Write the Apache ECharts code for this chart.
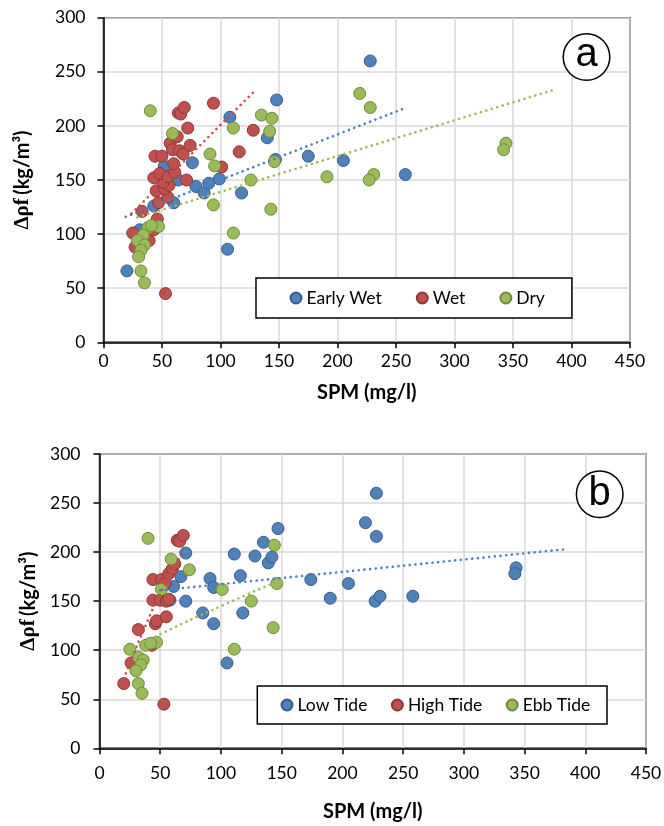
<!DOCTYPE html>
<html><head><meta charset="utf-8">
<script src="https://cdn.jsdelivr.net/npm/echarts@6/dist/echarts.min.js"></script>
<style>html,body{margin:0;padding:0;background:#fff}#c{width:664px;height:826px}</style>
</head><body><div id="c"></div>
<script>
// ---- data ----
const xRange = [0, 450, 50];
const yRange = [0, 300, 50];

// Panel (a)
const earlyWet = [[20,66],[31,104],[43,126],[52,163],[55,148],[60,129],[64,150],[76,166],[79,144],[86,138],[90,147],[99,151],[106,86],[108,208],[118,138],[140,189],[147,169],[148,224],[175,172],[205,168],[228,260],[258,155]];
const wet = [[25,101],[27,88],[33,121],[39,94],[43,104],[46,114],[47,129],[55,134],[45,140],[52,142],[56,145],[51,148],[43,152],[48,156],[55,153],[61,157],[71,150],[60,165],[44,172],[50,172],[57,184],[63,190],[59,178],[65,177],[68,174],[74,182],[72,198],[64,212],[66,211],[69,217],[94,221],[101,162],[116,176],[128,196],[53,45]];
const dry = [[40,214],[59,193],[91,174],[95,163],[94,127],[111,198],[111,101],[126,150],[135,210],[144,207],[142,195],[146,167],[143,123],[191,153],[219,230],[228,217],[231,155],[227,150],[344,184],[342,178],[38,106],[47,107],[41,108],[34,99],[29,94],[35,90],[32,85],[30,79],[32,66],[35,55]];
const trendEarlyWet = [[19,116],[259,217]];
const trendWet = [[24,119],[128,231]];
const trendDry = [[29,115.5],[384,233]];

// Panel (b)
const lowTide = [[58,151],[61,165],[67,175],[71,199],[71,150],[85,138],[91,173],[94,164],[94,127],[105,87],[111,198],[116,176],[118,138],[128,196],[135,210],[139,189],[142,195],[147,224],[174,172],[190,153],[205,168],[219,230],[228,260],[228,216],[227,150],[231,155],[258,155],[343,184],[342,178]];
const highTide = [[20,66],[26,87],[32,121],[43,105],[46,127],[47,130],[55,134],[44,151],[50,151],[55,150],[57,152],[44,172],[51,172],[54,168],[57,178],[60,183],[62,188],[64,212],[66,211],[69,217],[53,45]];
const ebbTide = [[40,214],[59,193],[74,182],[51,162],[101,162],[125,150],[143,123],[111,101],[144,207],[146,168],[25,101],[38,105],[47,108],[42,107],[32,93],[36,90],[34,85],[30,79],[32,66],[35,56]];
const trendLow = [[50,161],[384,203]];
const trendHigh = [[20,71],[32,108],[47,150],[68,199]];
const trendEbb = [[25,101],[75,131],[146,170]];

// ---- styling ----
const BLUE = '#4F81BD', BLUE_B = '#385D8A';
const RED = '#C0504D', RED_B = '#8C3836';
const GREEN = '#9BBB59', GREEN_B = '#71893F';
const FONT = 'Lato';

function xAxisDef(gi, margin, gap) {
  return {
    type: 'value', gridIndex: gi, min: xRange[0], max: xRange[1], interval: xRange[2],
    axisLine: {show: true, onZero: false, lineStyle: {color: '#000', width: 1.5}},
    axisTick: {show: true, inside: false, length: 6, lineStyle: {color: '#000', width: 1.5}},
    splitLine: {show: true, lineStyle: {color: '#d9d9d9', width: 1.5}},
    axisLabel: {fontFamily: FONT, fontSize: 17.5, color: '#000', margin: margin, showMinLabel: true, showMaxLabel: true},
    name: 'SPM (mg/l)', nameLocation: 'middle', nameGap: gap,
    nameTextStyle: {fontFamily: FONT, fontWeight: 'bold', fontSize: 20, color: '#000'}
  };
}
function yAxisDef(gi, margin, gap) {
  return {
    type: 'value', gridIndex: gi, min: yRange[0], max: yRange[1], interval: yRange[2],
    axisLine: {show: true, onZero: false, lineStyle: {color: '#000', width: 1.5}},
    axisTick: {show: true, inside: false, length: 6, lineStyle: {color: '#000', width: 1.5}},
    splitLine: {show: true, lineStyle: {color: '#d9d9d9', width: 1.5}},
    axisLabel: {fontFamily: FONT, fontSize: 17.5, color: '#000', margin: margin, showMinLabel: true, showMaxLabel: true},
    name: '{s|Δρf} {n|(kg/m³)}', nameLocation: 'middle', nameGap: gap,
    nameTextStyle: {color: '#000', rich: {
      s: {fontFamily: 'Liberation Serif', fontWeight: 'bold', fontSize: 21, color: '#000'},
      n: {fontFamily: FONT, fontWeight: 'bold', fontSize: 20, color: '#000'}
    }}
  };
}
function scatter(name, data, fill, stroke, gi) {
  return {type: 'scatter', name: name, data: data, xAxisIndex: gi, yAxisIndex: gi,
    symbol: 'circle', symbolSize: 12, z: 2, silent: true,
    itemStyle: {color: fill, borderColor: stroke, borderWidth: 1, opacity: 1}};
}
function trend(data, color, gi) {
  return {type: 'line', data: data, xAxisIndex: gi, yAxisIndex: gi, symbol: 'none', showSymbol: false,
    z: 3, silent: true, smooth: data.length > 2 ? 0.3 : false,
    lineStyle: {color: color, width: 2.6, type: [0.1, 5.6], cap: 'round'}};
}
function legendDef(names, left, top, gap, pad) {
  return {data: names, left: left, top: top, orient: 'horizontal', icon: 'circle',
    itemWidth: 11, itemHeight: 11, itemGap: gap, padding: pad,
    borderColor: '#000', borderWidth: 1.5, backgroundColor: '#fff', selectedMode: false,
    textStyle: {fontFamily: FONT, fontSize: 17.5, color: '#000', lineHeight: 20}};
}

const chart = echarts.init(document.getElementById('c'), null, {renderer: 'canvas'});
chart.setOption({
  animation: false,
  backgroundColor: '#fff',
  grid: [
    {left: 103.5, top: 17.7, width: 526.5, height: 324.6, show: true, borderColor: '#000', borderWidth: 1.5, backgroundColor: 'transparent', containLabel: false, outerBoundsMode: 'none'},
    {left: 99.5, top: 454, width: 546.5, height: 294.3, show: true, borderColor: '#000', borderWidth: 1.5, backgroundColor: 'transparent', containLabel: false, outerBoundsMode: 'none'}
  ],
  xAxis: [xAxisDef(0, 10, 40), xAxisDef(1, 16, 53)],
  yAxis: [yAxisDef(0, 18, 70), yAxisDef(1, 19, 60)],
  legend: [
    legendDef(['Early Wet', 'Wet', 'Dry'], 256, 278, 34, [10, 27, 10, 33.5]),
    legendDef(['Low Tide', 'High Tide', 'Ebb Tide'], 257.3, 686, 23.5, [9, 16.7, 9, 23.2])
  ],
  series: [
    scatter('Early Wet', earlyWet, BLUE, BLUE_B, 0),
    scatter('Wet', wet, RED, RED_B, 0),
    scatter('Dry', dry, GREEN, GREEN_B, 0),
    trend(trendEarlyWet, BLUE, 0),
    trend(trendWet, RED, 0),
    trend(trendDry, GREEN, 0),
    scatter('Low Tide', lowTide, BLUE, BLUE_B, 1),
    scatter('High Tide', highTide, RED, RED_B, 1),
    scatter('Ebb Tide', ebbTide, GREEN, GREEN_B, 1),
    trend(trendLow, BLUE, 1),
    trend(trendHigh, RED, 1),
    trend(trendEbb, GREEN, 1)
  ],
  graphic: [
    {type: 'circle', z: 10, shape: {cx: 586.5, cy: 57, r: 23.3}, style: {fill: '#fff', stroke: '#000', lineWidth: 1.5}},
    {type: 'text', z: 11, x: 586.5, y: 55, style: {text: 'a', fontFamily: 'Liberation Sans', fontSize: 40, fill: '#000', textAlign: 'center', textVerticalAlign: 'middle'}},
    {type: 'circle', z: 10, shape: {cx: 599.7, cy: 494.3, r: 23.3}, style: {fill: '#fff', stroke: '#000', lineWidth: 1.5}},
    {type: 'text', z: 11, x: 599.7, y: 494.3, style: {text: 'b', fontFamily: 'Liberation Sans', fontSize: 40, fill: '#000', textAlign: 'center', textVerticalAlign: 'middle'}}
  ]
});
</script>
</body></html>
